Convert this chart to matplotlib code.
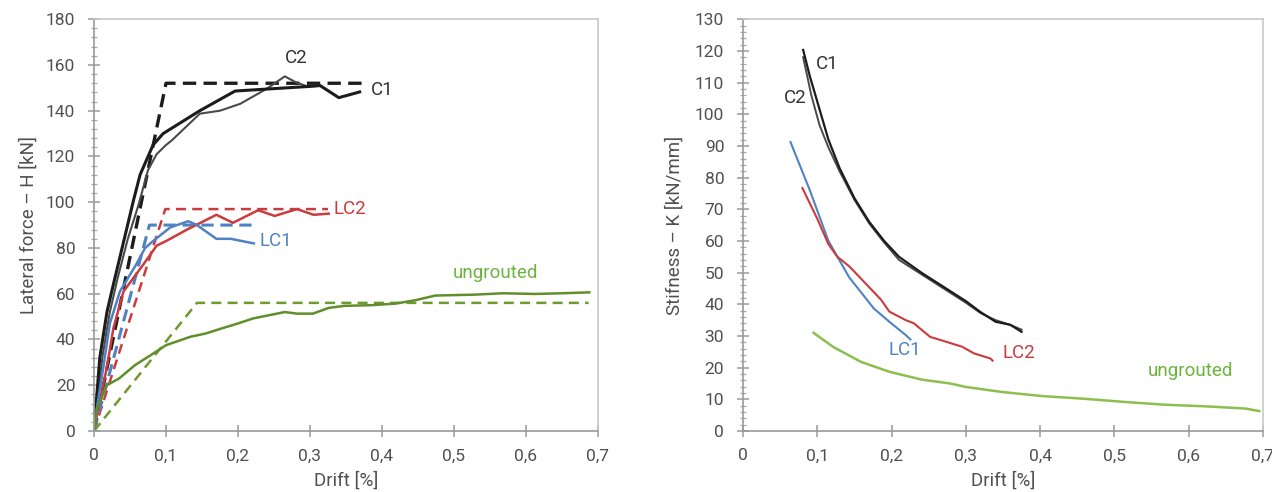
import matplotlib
matplotlib.use("Agg")
import matplotlib.pyplot as plt
from matplotlib.ticker import MultipleLocator, FuncFormatter

# ---- left: lateral force vs drift ----
c1_drift = [0, 0.003, 0.008, 0.018, 0.0246, 0.036, 0.055, 0.064, 0.082, 0.096, 0.147, 0.196, 0.304, 0.314, 0.340, 0.369]
c1_force = [0, 12, 32, 52, 61, 76, 101, 112, 125, 130, 140, 148.6, 150.7, 151, 145.7, 148.2]
c2_drift = [0, 0.005, 0.012, 0.022, 0.033, 0.047, 0.062, 0.075, 0.087, 0.100, 0.108, 0.147, 0.175, 0.203, 0.240, 0.265, 0.280, 0.293]
c2_force = [0, 15, 33, 52, 67, 84, 99, 114, 121, 125, 127, 138.7, 140, 143, 149.6, 155, 152.5, 151]
c_bilin_drift = [0, 0.100, 0.374]
c_bilin_force = [0, 152, 152]

lc1_drift = [0, 0.005, 0.013, 0.022, 0.036, 0.059, 0.071, 0.082, 0.106, 0.131, 0.143, 0.170, 0.190, 0.222]
lc1_force = [0, 12, 28, 47, 61, 73, 80, 83, 89, 91.7, 90, 84, 84, 82]
lc1_bilin_drift = [0, 0.077, 0.223]
lc1_bilin_force = [0, 90, 90]

lc2_drift = [0, 0.004, 0.018, 0.027, 0.041, 0.069, 0.087, 0.100, 0.129, 0.170, 0.193, 0.228, 0.251, 0.282, 0.305, 0.326]
lc2_force = [0, 7, 28, 45, 61, 73, 81, 83, 88, 94.5, 91, 96.5, 94, 97, 94.5, 95]
lc2_bilin_drift = [0, 0.099, 0.325]
lc2_bilin_force = [0, 97, 97]

ung_drift = [0, 0.004, 0.018, 0.035, 0.057, 0.079, 0.100, 0.134, 0.155, 0.177, 0.200, 0.221, 0.243, 0.265,
             0.282, 0.304, 0.326, 0.348, 0.386, 0.419, 0.447, 0.474, 0.529, 0.568, 0.612, 0.650, 0.688]
ung_force = [0, 9.9, 20, 23, 28.8, 33.2, 37.5, 41.2, 42.6, 44.8, 47, 49.2, 50.6, 52,
             51.3, 51.3, 53.8, 54.7, 55, 55.7, 57.2, 59.2, 59.6, 60.2, 59.9, 60.2, 60.6]
ung_bilin_drift = [0, 0.143, 0.687]
ung_bilin_force = [0, 56, 56]

# ---- right: stiffness vs drift ----
k_c1_drift = [0.081, 0.090, 0.100, 0.115, 0.130, 0.150, 0.170, 0.190, 0.210, 0.240, 0.270, 0.300, 0.320, 0.340, 0.360, 0.375]
k_c1 = [120.3, 112, 104, 92, 83, 73.5, 66, 60, 55, 50, 45.5, 41, 37.5, 34.5, 33.5, 31.3]
k_c2_drift = [0.081, 0.092, 0.103, 0.115, 0.130, 0.150, 0.170, 0.190, 0.210, 0.240, 0.270, 0.300, 0.320, 0.340, 0.360, 0.375]
k_c2 = [118, 106, 96.6, 89.5, 82, 73, 65.5, 59.5, 54, 49.5, 45, 40.5, 37.2, 35, 33.5, 32]
k_lc1_drift = [0.064, 0.090, 0.115, 0.143, 0.165, 0.176, 0.197, 0.219, 0.2255]
k_lc1 = [91.2, 76, 60, 48.5, 42, 38.7, 34.5, 30.3, 28.9]
k_lc2_drift = [0.080, 0.100, 0.115, 0.127, 0.143, 0.165, 0.186, 0.197, 0.219, 0.230, 0.252, 0.273, 0.295, 0.311, 0.333, 0.336]
k_lc2 = [76.7, 67, 59, 55, 52, 46.6, 41.4, 37.7, 35, 34, 29.7, 28.2, 26.6, 24.5, 22.9, 22.2]
k_ung_drift = [0.095, 0.121, 0.159, 0.197, 0.241, 0.279, 0.300, 0.349, 0.404, 0.458, 0.512, 0.567, 0.621, 0.676, 0.695]
k_ung = [31, 26.6, 21.8, 18.7, 16.2, 15, 13.9, 12.3, 11, 10.2, 9.2, 8.3, 7.8, 7.1, 6.3]

plt.rcParams['font.family'] = ['Roboto', 'DejaVu Sans']

BLACK = '#1c1c1c'
GREY = '#4a4a4a'
BLUE = '#4f82c4'
RED = '#cc3b3b'
GREEN = '#5f8f2a'
GREEN_D = '#6f9a2e'
GREEN_R = '#8cbf4e'
TXT = '#505050'
TICK_FS = 12.5
LABEL_FS = 13.5
NOTE_FS = 13.5


def style_axes(ax, ymax, ymajor, yminor):
    ax.set_xlim(0, 0.7)
    ax.set_ylim(0, ymax)
    ax.xaxis.set_major_locator(MultipleLocator(0.1))
    ax.yaxis.set_major_locator(MultipleLocator(ymajor))
    ax.yaxis.set_minor_locator(MultipleLocator(yminor))
    ax.xaxis.set_major_formatter(FuncFormatter(lambda v, p: ('%g' % round(v, 2)).replace('.', ',')))
    for s in ['top', 'right']:
        ax.spines[s].set_color('#c8c8c8')
        ax.spines[s].set_linewidth(1.2)
    for s in ['left', 'bottom']:
        ax.spines[s].set_color('#9a9a9a')
        ax.spines[s].set_linewidth(1.2)
    ax.tick_params(which='major', direction='inout', length=9, width=1.1, color='#9a9a9a',
                   labelsize=TICK_FS, labelcolor=TXT)
    ax.tick_params(which='minor', direction='inout', length=5, width=0.9, color='#aaaaaa')
    ax.tick_params(axis='y', which='major', pad=9)
    ax.tick_params(axis='x', which='major', pad=8)


fig = plt.figure(figsize=(12.72, 4.92), dpi=100)
ax1 = fig.add_axes([0.0739, 0.124, 0.3962, 0.837])
ax2 = fig.add_axes([0.5841, 0.124, 0.4088, 0.837])

# left panel
ax1.plot(c_bilin_drift, c_bilin_force, color=BLACK, lw=2.4, ls=(0, (4, 2.2)))
ax1.plot(c2_drift, c2_force, color=GREY, lw=1.5)
ax1.plot(c1_drift, c1_force, color=BLACK, lw=2.2)
ax1.plot(lc2_bilin_drift, lc2_bilin_force, color=RED, lw=1.8, ls=(0, (4, 2.5)))
ax1.plot(lc1_bilin_drift, lc1_bilin_force, color=BLUE, lw=2.2, ls=(0, (4, 2.2)))
ax1.plot(lc2_drift, lc2_force, color=RED, lw=1.8)
ax1.plot(lc1_drift, lc1_force, color=BLUE, lw=1.8)
ax1.plot(ung_bilin_drift, ung_bilin_force, color=GREEN_D, lw=1.8, ls=(0, (4, 2.5)))
ax1.plot(ung_drift, ung_force, color=GREEN, lw=1.8)

ax1.text(0.281, 163, 'C2', color='#333333', fontsize=NOTE_FS, ha='center', va='center')
ax1.text(0.385, 149, 'C1', color='#333333', fontsize=NOTE_FS, ha='left', va='center')
ax1.text(0.332, 97, 'LC2', color=RED, fontsize=NOTE_FS, ha='left', va='center')
ax1.text(0.230, 83, 'LC1', color=BLUE, fontsize=NOTE_FS, ha='left', va='center')
ax1.text(0.558, 69, 'ungrouted', color='#6db33f', fontsize=NOTE_FS, ha='center', va='center')

style_axes(ax1, 180, 20, 4)
ax1.set_xlabel('Drift [%]', fontsize=LABEL_FS, color=TXT, labelpad=6)
ax1.set_ylabel('Lateral force \u2013 H [kN]', fontsize=LABEL_FS, color=TXT, labelpad=6)

# right panel
ax2.plot(k_c2_drift, k_c2, color=GREY, lw=1.4)
ax2.plot(k_c1_drift, k_c1, color=BLACK, lw=1.6)
ax2.plot(k_lc1_drift, k_lc1, color=BLUE, lw=1.5)
ax2.plot(k_lc2_drift, k_lc2, color=RED, lw=1.5)
ax2.plot(k_ung_drift, k_ung, color=GREEN_R, lw=1.8)

ax2.text(0.114, 116, 'C1', color='#333333', fontsize=NOTE_FS, ha='center', va='center')
ax2.text(0.070, 105, 'C2', color='#333333', fontsize=NOTE_FS, ha='center', va='center')
ax2.text(0.218, 25.5, 'LC1', color=BLUE, fontsize=NOTE_FS, ha='center', va='center')
ax2.text(0.372, 24.5, 'LC2', color=RED, fontsize=NOTE_FS, ha='center', va='center')
ax2.text(0.603, 19, 'ungrouted', color='#6db33f', fontsize=NOTE_FS, ha='center', va='center')

style_axes(ax2, 130, 10, 2)
ax2.set_xlabel('Drift [%]', fontsize=LABEL_FS, color=TXT, labelpad=6)
ax2.set_ylabel('Stifness \u2013 K [kN/mm]', fontsize=LABEL_FS, color=TXT, labelpad=8)

fig.savefig('out.png', dpi=100)
